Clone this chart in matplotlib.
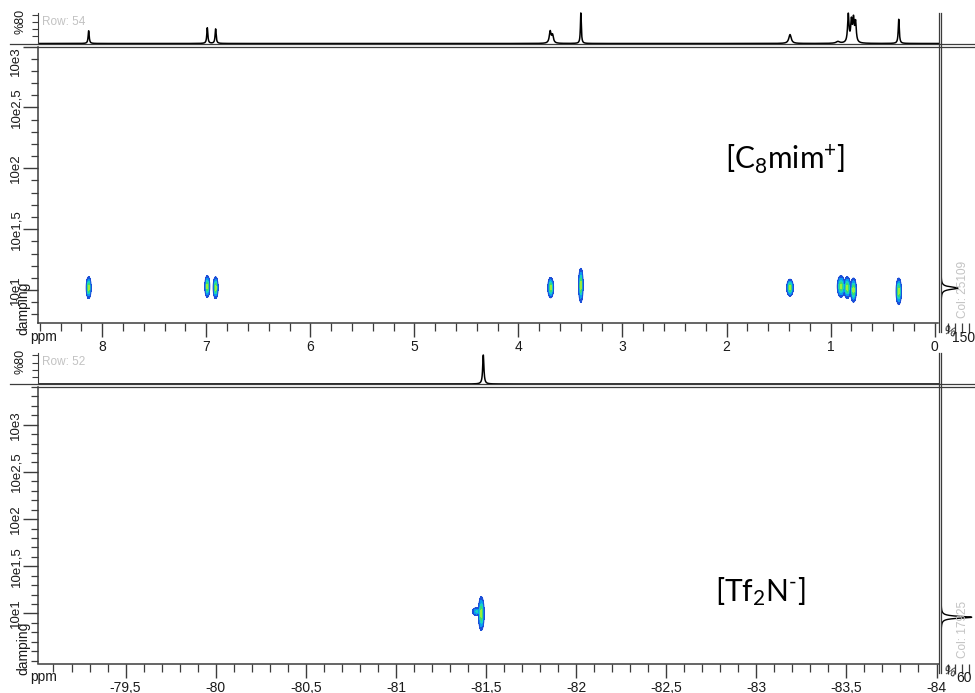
"""DOSY maps of [C8mim][Tf2N]: 1H (top) and 19F (bottom), drawn like the Mnova screen."""
import matplotlib
matplotlib.use("Agg")
import matplotlib.pyplot as plt
import numpy as np
from matplotlib.lines import Line2D
from matplotlib.ticker import FixedLocator, FuncFormatter, MultipleLocator

W, H = 975, 693
NARROW = ["Liberation Sans Narrow", "Liberation Sans", "DejaVu Sans"]
REG = ["Liberation Sans", "DejaVu Sans"]
INK, SPINE, FAINT = "#1a1a1a", "#3c3c3c", "#c2c2c2"
SPOT_COLORS = ["#1c4fd8", "#0a9cf0", "#18d2c4", "#38dc78", "#9cee3a"]
SPOT_LEVELS = [0.14, 0.32, 0.52, 0.72, 0.9, 1.5]

plt.rcParams.update({"axes.unicode_minus": False, "mathtext.fontset": "custom",
                     "mathtext.rm": "Lato", "mathtext.it": "Lato"})

# ---- 1H panel ([C8mim+]) ----
H1_PPM = [8.13, 6.99, 6.91, 3.695, 3.672, 3.40, 1.39, 0.93, 0.83, 0.80, 0.78, 0.76, 0.345]
H1_INT = [36, 44, 41, 33, 22, 87, 25, 5, 79, 58, 62, 55, 68]
H1_HW = [0.006, 0.006, 0.006, 0.010, 0.010, 0.005, 0.014, 0.02, 0.008, 0.008, 0.008, 0.008, 0.006]
H1_SPOT_PPM = [8.13, 6.99, 6.91, 3.69, 3.40, 1.39, 0.90, 0.84, 0.78, 0.345]
H1_SPOT_LOGD = [1.02, 1.03, 1.02, 1.02, 1.04, 1.02, 1.03, 1.02, 1.00, 0.99]
H1_SPOT_SX = [0.012, 0.012, 0.012, 0.014, 0.011, 0.016, 0.018, 0.016, 0.014, 0.013]
H1_SPOT_SY = [0.045, 0.045, 0.045, 0.042, 0.07, 0.035, 0.045, 0.045, 0.05, 0.055]
H1_COL_LOGD, H1_COL_INT, H1_COL_HW = [1.016], [91], [0.012]

# ---- 19F panel ([Tf2N-]) ----
F19_PPM, F19_INT, F19_HW = [-81.485], [82], [0.004]
F19_SPOT_PPM = [-81.474, -81.448]
F19_SPOT_LOGD = [1.0, 1.02]
F19_SPOT_SX = [0.008, 0.014]
F19_SPOT_SY = [0.09, 0.025]
F19_SPOT_AMP = [1.0, 0.55]
F19_COL_LOGD, F19_COL_INT, F19_COL_HW = [0.96], [66], [0.012]


def px_axes(fig, x, y, w, h):
    return fig.add_axes([x / W, 1 - (y + h) / H, w / W, h / H])


def fig_line(fig, x0, x1, y0, y1):
    fig.add_artist(Line2D([x0 / W, x1 / W], [1 - y0 / H, 1 - y1 / H],
                          transform=fig.transFigure, color=SPINE, lw=0.9))


def ftext(fig, x, y, s, **kw):
    fig.text(x / W, 1 - y / H, s, **kw)


def lorentz(x, pos, amp, hw):
    out = np.zeros_like(x)
    for p, a, w in zip(pos, amp, hw):
        out += a * w**2 / ((x - p) ** 2 + w**2)
    return out


def draw_panel(fig, dy, xlim, xmaj, xmin, xfmt, ylim, spec, spots, col, col_xmax,
               col_ticks, col_label, row_label, col_name, tag, tag_xy, top_label_down):
    # 1D trace on top
    a1 = px_axes(fig, 38, 5 + dy, 900.5, 38.5)
    x = np.linspace(xlim[0], xlim[1], 6000)
    a1.plot(x, lorentz(x, *spec), color="black", lw=1.1)
    a1.set_xlim(*xlim)
    a1.set_ylim(0, 108)
    a1.set_facecolor("none")
    for s in ("top", "right", "bottom"):
        a1.spines[s].set_visible(False)
    a1.spines["left"].set_bounds(0, 86)
    a1.spines["left"].set_color(SPINE)
    a1.set_xticks([])
    a1.yaxis.set_major_locator(FixedLocator([20, 40, 60, 80]))
    a1.tick_params(axis="y", length=4, width=0.8, color=SPINE, labelleft=False)
    ftext(fig, 20, 21 + dy, "%80", rotation=90, ha="center", va="center",
          fontsize=9, family=NARROW, color=INK)
    ftext(fig, 42, 22 + dy, row_label, ha="left", va="center", fontsize=8.5,
          family=REG, color=FAINT)

    # 2D map
    ax = px_axes(fig, 38, 46.5 + dy, 900.5, 276.5)
    gx = np.linspace(xlim[0], xlim[1], 2400)
    gy = np.linspace(ylim[0], ylim[1], 700)
    X, Y = np.meshgrid(gx, gy)
    Z = np.zeros_like(X)
    for px_, py_, sx, sy, amp in zip(*spots):
        Z = np.maximum(Z, amp * np.exp(-0.5 * (((X - px_) / sx) ** 2 + ((Y - py_) / sy) ** 2)))
    ax.contourf(X, Y, Z, levels=SPOT_LEVELS, colors=SPOT_COLORS)
    ax.contour(X, Y, Z, levels=[SPOT_LEVELS[0]], colors=[SPOT_COLORS[0]], linewidths=0.7)
    ax.set_xlim(*xlim)
    ax.set_ylim(*ylim)
    ax.spines["top"].set_visible(False)
    ax.spines["right"].set_visible(False)
    for s in ("left", "bottom"):
        ax.spines[s].set_color(SPINE)
        ax.spines[s].set_linewidth(1.1)
    ax.xaxis.set_major_locator(MultipleLocator(xmaj))
    ax.xaxis.set_minor_locator(MultipleLocator(xmin))
    ax.xaxis.set_major_formatter(FuncFormatter(xfmt))
    ax.yaxis.set_major_locator(FixedLocator([1.0, 1.5, 2.0, 2.5, 3.0]))
    ax.yaxis.set_minor_locator(MultipleLocator(0.1))
    ylabels = ax.set_yticklabels(["10e1", "10e1,5", "10e2", "10e2,5", "10e3"])
    ax.tick_params(axis="x", which="major", length=10, width=1.0, pad=2.5,
                   labelsize=10, color=SPINE, labelcolor=INK)
    ax.tick_params(axis="x", which="minor", length=6, width=0.9, color=SPINE)
    ax.tick_params(axis="y", which="major", length=11, width=1.0, pad=0.5,
                   labelsize=9.5, labelrotation=90, color=SPINE, labelcolor=INK)
    ax.tick_params(axis="y", which="minor", length=5, width=0.9, color=SPINE)
    for lbl in ax.get_xticklabels():
        lbl.set_family(NARROW)
    for lbl in ylabels:
        lbl.set_family(NARROW)
        lbl.set_va("center")
    if top_label_down:
        ylabels[-1].set_va("top")
    ftext(fig, 43.5, 337 + dy, "ppm", ha="center", va="center", fontsize=10,
          family=NARROW, color=INK)
    ftext(fig, 23, 308 + dy, "damping", rotation=90, ha="center", va="center",
          fontsize=10, family=NARROW, color=INK)
    ax.text(tag_xy[0], tag_xy[1], tag, transform=ax.transAxes, fontsize=21.5,
            family=["Lato", "DejaVu Sans"], color="black", ha="left", va="center")

    # column projection on the right
    ac = px_axes(fig, 941, 46.5 + dy, 34, 276.5)
    y = np.linspace(ylim[0], ylim[1], 3000)
    ac.plot(lorentz(y, *col), y, color="black", lw=1.0)
    ac.set_xlim(0, col_xmax)
    ac.set_ylim(*ylim)
    ac.set_facecolor("none")
    for s in ac.spines.values():
        s.set_visible(False)
    ac.set_yticks([])
    ac.xaxis.set_major_locator(FixedLocator(col_ticks))
    ac.tick_params(axis="x", length=7, width=0.9, color=SPINE, labelbottom=False)
    ftext(fig, 949, 332 + dy, "%", ha="center", va="center", fontsize=9.5,
          family=NARROW, color=INK, rotation=-20)
    ftext(fig, 964, 338 + dy, col_label, ha="center", va="center", fontsize=10,
          family=NARROW, color=INK)
    ftext(fig, 963, 289 + dy, col_name, rotation=90, ha="center", va="center",
          fontsize=8.5, family=REG, color=FAINT)

    # Mnova-style double frame lines
    fig_line(fig, 10, 975, 43.5 + dy, 43.5 + dy)
    fig_line(fig, 38, 975, 46.5 + dy, 46.5 + dy)
    fig_line(fig, 938.5, 938.5, 13 + dy, 332 + dy)
    fig_line(fig, 941, 941, 13 + dy, 332 + dy)


def fmt_h(v, _):
    return f"{v:.0f}"


def fmt_f(v, _):
    return (f"{v:.1f}" if abs(v - round(v)) > 1e-6 else f"{v:.0f}").replace(".", ",")


fig = plt.figure(figsize=(W / 100, H / 100), dpi=100)

draw_panel(fig, 0, (8.617, -0.037), 1, 0.2, fmt_h, (0.73, 3.0),
           (H1_PPM, H1_INT, H1_HW),
           (H1_SPOT_PPM, H1_SPOT_LOGD, H1_SPOT_SX, H1_SPOT_SY, [1.0] * len(H1_SPOT_PPM)),
           (H1_COL_LOGD, H1_COL_INT, H1_COL_HW), 182, [37.5, 75, 112.5, 150], "150",
           "Row: 54", "Col: 25109", r"[C$_\mathregular{8}$mim$^\mathregular{+}$]",
           (0.763, 0.59), True)

draw_panel(fig, 340.5, (-79.014, -84.011), 0.5, 0.1, fmt_f, (0.47, 3.40),
           (F19_PPM, F19_INT, F19_HW),
           (F19_SPOT_PPM, F19_SPOT_LOGD, F19_SPOT_SX, F19_SPOT_SY, F19_SPOT_AMP),
           (F19_COL_LOGD, F19_COL_INT, F19_COL_HW), 73, [15, 30, 45, 60], "60",
           "Row: 52", "Col: 17925", r"[Tf$_\mathregular{2}$N$^\text{-}$]",
           (0.752, 0.26), False)

fig.savefig("out.png", dpi=100, facecolor="white")
